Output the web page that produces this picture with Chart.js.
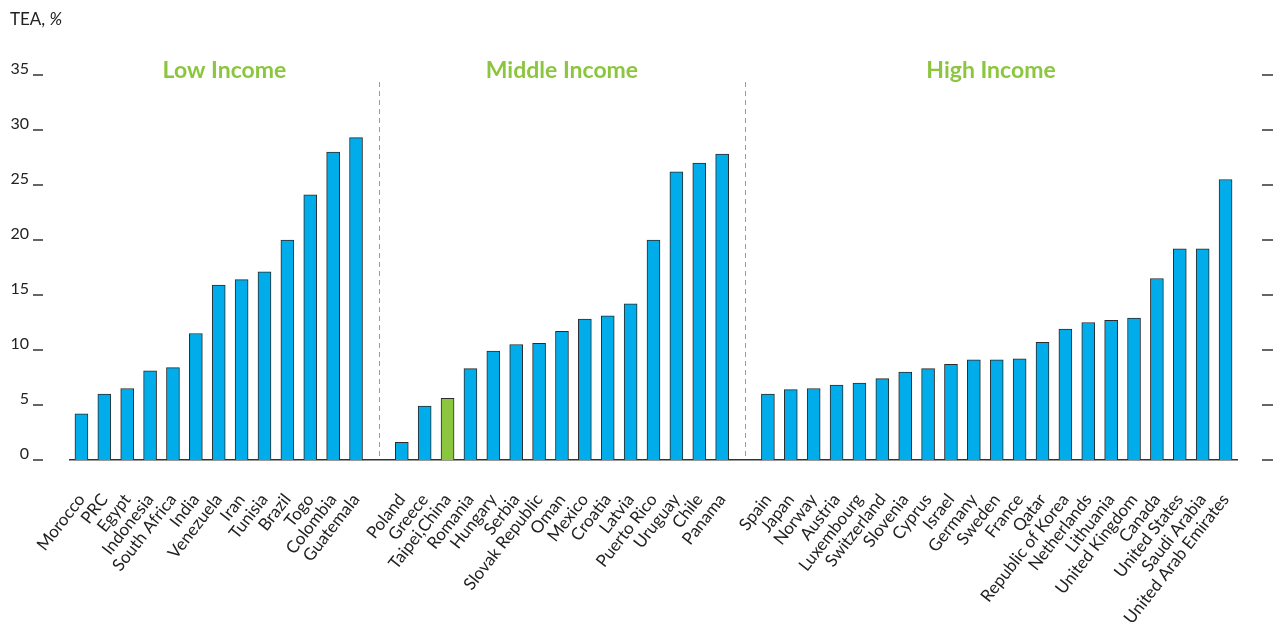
<!DOCTYPE html>
<html>
<head>
<meta charset="utf-8">
<script src="https://cdn.jsdelivr.net/npm/chart.js@4.4.1/dist/chart.umd.min.js"></script>
<style>
    body { margin: 0; background: #fff; }
    #wrap { width: 1276px; height: 623px; }
</style>
</head>
<body>
<div id="wrap"><canvas id="teaChart" width="1276" height="623"></canvas></div>
<script>
// Data
const lowCountries = ['Morocco', 'PRC', 'Egypt', 'Indonesia', 'South Africa', 'India', 'Venezuela', 'Iran', 'Tunisia', 'Brazil', 'Togo', 'Colombia', 'Guatemala'];
const lowTEA = [4.2, 6.0, 6.5, 8.1, 8.4, 11.5, 15.9, 16.4, 17.1, 20.0, 24.1, 28.0, 29.3];

const midCountries = ['Poland', 'Greece', 'Taipei,China', 'Romania', 'Hungary', 'Serbia', 'Slovak Republic', 'Oman', 'Mexico', 'Croatia', 'Latvia', 'Puerto Rico', 'Uruguay', 'Chile', 'Panama'];
const midTEA = [1.6, 4.9, 5.6, 8.3, 9.9, 10.5, 10.6, 11.7, 12.8, 13.1, 14.2, 20.0, 26.2, 27.0, 27.8];

const highCountries = ['Spain', 'Japan', 'Norway', 'Austria', 'Luxembourg', 'Switzerland', 'Slovenia', 'Cyprus', 'Israel', 'Germany', 'Sweden', 'France', 'Qatar', 'Republic of Korea', 'Netherlands', 'Lithuania', 'United Kingdom', 'Canada', 'United States', 'Saudi Arabia', 'United Arab Emirates'];
const highTEA = [6.0, 6.4, 6.5, 6.8, 7.0, 7.4, 8.0, 8.3, 8.7, 9.1, 9.1, 9.2, 10.7, 11.9, 12.5, 12.7, 12.9, 16.5, 19.2, 19.2, 25.5];

const groupTitles = ['Low Income', 'Middle Income', 'High Income'];
const yTicks = [0, 5, 10, 15, 20, 25, 30, 35];
const highlighted = 'Taipei,China';

// Colours
const barBlue = '#00ace9';
const barGreen = '#8cc63f';
const titleGreen = '#8cc63f';
const inkColor = '#222';

// one empty slot between the groups
const labels = [...lowCountries, '', ...midCountries, '', ...highCountries];
const values = [...lowTEA, null, ...midTEA, null, ...highTEA];
const gapIndexes = [lowCountries.length, lowCountries.length + 1 + midCountries.length];
const colors = labels.map(l => l === highlighted ? barGreen : barBlue);

// Decorations: unit label, group titles, dashed separators, tick dashes
const decorations = {
    id: 'decorations',
    afterDraw(chart) {
        const { ctx, chartArea, scales } = chart;
        const x = scales.x;
        const y = scales.y;
        ctx.save();

        // unit label
        ctx.fillStyle = inkColor;
        ctx.textBaseline = 'alphabetic';
        ctx.textAlign = 'left';
        ctx.font = '17px Lato';
        ctx.fillText('TEA, ', 10, 25);
        const w = ctx.measureText('TEA, ').width;
        ctx.font = 'italic 17px Lato';
        ctx.fillText('%', 10 + w, 25);

        // separators
        const sepX = gapIndexes.map(i => x.getPixelForValue(i));
        ctx.strokeStyle = '#9a9a9a';
        ctx.lineWidth = 1;
        ctx.setLineDash([5, 4]);
        sepX.forEach(px => {
            ctx.beginPath();
            ctx.moveTo(Math.round(px) + 0.5, 82);
            ctx.lineTo(Math.round(px) + 0.5, chartArea.bottom);
            ctx.stroke();
        });
        ctx.setLineDash([]);

        // group titles
        const edges = [chartArea.left, ...sepX, chartArea.right];
        ctx.fillStyle = titleGreen;
        ctx.font = 'bold 23px Lato';
        ctx.textAlign = 'center';
        groupTitles.forEach((t, i) => {
            ctx.fillText(t, (edges[i] + edges[i + 1]) / 2, 78);
        });

        // tick dashes on both sides
        ctx.strokeStyle = '#333';
        ctx.lineWidth = 1.5;
        yTicks.forEach(v => {
            const py = y.getPixelForValue(v);
            ctx.beginPath();
            ctx.moveTo(33, py);
            ctx.lineTo(43, py);
            ctx.moveTo(1262, py);
            ctx.lineTo(1273, py);
            ctx.stroke();
        });
        ctx.restore();
    }
};

new Chart(document.getElementById('teaChart'), {
    type: 'bar',
    data: {
        labels: labels,
        datasets: [{
            data: values,
            backgroundColor: colors,
            borderColor: '#2b2b2b',
            borderWidth: 1,
            barThickness: 13
        }]
    },
    options: {
        responsive: false,
        animation: false,
        layout: {
            padding: { top: 75, right: 39, left: 0, bottom: 0 }
        },
        plugins: {
            legend: { display: false },
            tooltip: { enabled: false }
        },
        scales: {
            x: {
                grid: { display: false, drawTicks: false },
                border: { display: true, color: '#333', width: 1.5 },
                afterFit: scale => { scale.height = 163; },
                ticks: {
                    autoSkip: false,
                    minRotation: 52,
                    maxRotation: 52,
                    padding: 30,
                    color: inkColor,
                    font: { family: 'Lato', size: 17 }
                }
            },
            y: {
                min: 0,
                max: 35,
                grid: { display: false, drawTicks: false },
                border: { display: false },
                afterFit: scale => { scale.width = 70; },
                afterBuildTicks: scale => { scale.ticks = yTicks.map(v => ({ value: v })); },
                ticks: {
                    padding: 41,
                    labelOffset: -6,
                    color: inkColor,
                    font: { family: 'Lato', size: 16 }
                }
            }
        }
    },
    plugins: [decorations]
});
</script>
</body>
</html>
